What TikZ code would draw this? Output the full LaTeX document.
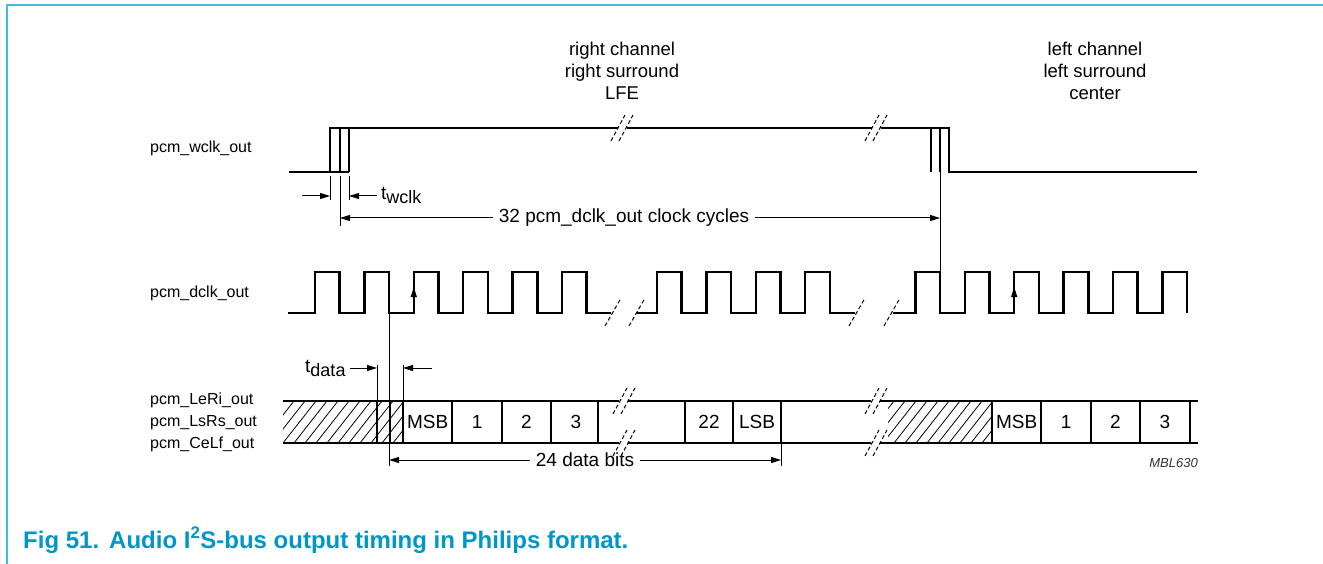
\documentclass[tikz,border=0pt]{standalone}
\usepackage{fontspec}
\setmainfont{Liberation Sans}
\usetikzlibrary{arrows.meta}
\definecolor{framec}{RGB}{64,190,222}
\definecolor{capc}{RGB}{0,150,200}
\tikzset{
  wave/.style={line width=2.5pt, line join=miter, line cap=butt},
  annot/.style={line width=1pt},
  divider/.style={line width=2pt},
  tipend/.style={-{Triangle[length=10pt,width=6pt]}},
  brkline/.style={line width=1pt, dash pattern=on 4pt off 2.5pt},
  lbl/.style={font=\fontsize{16}{19}\selectfont, inner sep=0pt},
  toplbl/.style={font=\fontsize{18.5}{22}\selectfont, inner sep=0pt},
  note/.style={font=\fontsize{19}{22}\selectfont, inner sep=0pt},
  cell/.style={font=\fontsize{19}{22}\selectfont, inner sep=0pt},
}
\newcommand{\dslash}[2]{%
  \draw[brkline] ({#1-11},{#2+13}) -- ({#1+3},{#2-13});
  \draw[brkline] ({#1-3},{#2+13}) -- ({#1+11},{#2-13});
}
\newcommand{\sslash}[2]{%
  \draw[brkline] ({#1-8},{#2+14}) -- ({#1+8},{#2-14});
}
\begin{document}
\begin{tikzpicture}[x=1pt,y=-1pt]
\useasboundingbox (0,0) rectangle (1323,564);
% frame
\draw[framec, line width=2pt] (6.5,564) -- (6.5,5) -- (1323,5);
% caption
\node[anchor=base west, inner sep=0pt, text=capc, font=\fontsize{24}{28}\selectfont\bfseries] (cap) at (23,548)
  {Fig 51.\hspace{10pt}Audio I\textsuperscript{2}S-bus output timing in Philips format.};

% top labels
\node[toplbl, anchor=base] (rc) at (622,56) {right channel};
\node[toplbl, anchor=base] (rs) at (622,78) {right surround};
\node[toplbl, anchor=base] (lfe) at (622,100) {LFE};
\node[toplbl, anchor=base] (lc) at (1095,56) {left channel};
\node[toplbl, anchor=base] (ls) at (1095,78) {left surround};
\node[toplbl, anchor=base] (cn) at (1095,100) {center};

% signal names
\node[lbl, anchor=base west] (nw) at (150,152.5) {pcm\_wclk\_out};
\node[lbl, anchor=base west] (nd) at (150,297.5) {pcm\_dclk\_out};
\node[lbl, anchor=base west] (n1) at (150,404.5) {pcm\_LeRi\_out};
\node[lbl, anchor=base west] (n2) at (150,426.5) {pcm\_LsRs\_out};
\node[lbl, anchor=base west] (n3) at (150,448.5) {pcm\_CeLf\_out};

% ---------------- wclk ----------------
\draw[wave] (289,172) -- (349,172);
\draw[wave] (330,172) -- (330,128) -- (618,128) (627,128) -- (872,128) (881,128) -- (949,128) -- (949,172) -- (1197,172);
\draw[divider] (340,128) -- (340,172);
\draw[divider] (349,128) -- (349,172);
\draw[divider] (931,128) -- (931,172);
\draw[divider] (940,128) -- (940,172);
\dslash{622}{128}
\dslash{876}{128}

% ---------------- dclk ----------------
\draw[wave] (288,313) foreach \i in {0,...,5} {
  -- ({315+49.4*\i},313) -- ({315+49.4*\i},272) -- ({339.7+49.4*\i},272) -- ({339.7+49.4*\i},313)
} -- (611,313);
\draw[wave] (636,313) foreach \i in {0,...,3} {
  -- ({657+49.4*\i},313) -- ({657+49.4*\i},272) -- ({681.7+49.4*\i},272) -- ({681.7+49.4*\i},313)
} -- (855,313);
\draw[wave] (893,313) foreach \i in {0,...,5} {
  -- ({915.4+49.4*\i},313) -- ({915.4+49.4*\i},272) -- ({940.1+49.4*\i},272) -- ({940.1+49.4*\i},313)
};
\sslash{613}{312}
\sslash{637}{312}
\sslash{857}{312}
\sslash{892}{312}
\draw[annot, -{Triangle[length=10pt,width=6pt]}] (413.8,305) -- (413.8,287);
\draw[annot, -{Triangle[length=10pt,width=6pt]}] (1014.2,305) -- (1014.2,287);

% ---------------- data bus ----------------
\begin{scope}
  \clip (283,401) rectangle (403,443);
  \foreach \k in {0,...,14} { \draw[annot, line width=0.8pt] ({250+11*\k},443) -- ++(33,-42); }
\end{scope}
\begin{scope}
  \clip (888,401) rectangle (992,443);
  \foreach \k in {0,...,13} { \draw[annot, line width=0.8pt] ({850+11*\k},443) -- ++(33,-42); }
\end{scope}
\foreach \yy in {401,443} {
  \draw[wave] (283,\yy) -- (619,\yy) (628,\yy) -- (871,\yy) (880,\yy) -- (1198,\yy);
  \dslash{624}{\yy}
  \dslash{876}{\yy}
}
\foreach \xx in {377,390,403,452.4,501.8,551.2,598,685,733,781,992,1041.4,1090.8,1140.2,1189.6} {
  \draw[divider] (\xx,401) -- (\xx,443);
}
\node[cell] (c1) at (427.7,422) {MSB};
\node[cell] (c2) at (477.1,422) {1};
\node[cell] (c3) at (526.5,422) {2};
\node[cell] (c4) at (575.9,422) {3};
\node[cell] (c5) at (709,422) {22};
\node[cell] (c6) at (757,422) {LSB};
\node[cell] (c7) at (1016.7,422) {MSB};
\node[cell] (c8) at (1066.1,422) {1};
\node[cell] (c9) at (1115.5,422) {2};
\node[cell] (c10) at (1164.9,422) {3};
\node[anchor=base east, inner sep=0pt, font=\fontsize{13}{15}\selectfont\itshape, text=black!80] (mbl) at (1198,467) {MBL630};

% ---------------- annotations ----------------
% t_wclk
\coordinate (wa) at (330,176);
\coordinate (wb) at (340,176);
\coordinate (wc) at (349,176);
\draw[annot] (wa) -- (330,200);
\draw[annot] (wb) -- (340,226);
\draw[annot] (wc) -- (349,200);
\coordinate (wl) at (302,196);
\coordinate (wr) at (377,196);
\draw[annot, tipend] (wl) -- (330,196);
\draw[annot, tipend] (wr) -- (349,196);
\node[note, anchor=base west] (tw) at (381,200) {t\raisebox{-4pt}{\fontsize{18}{20}\selectfont wclk}};

% 32 cycles
\draw[annot] (940,172) -- (940,272);
\node[note, inner sep=6pt] (cyc) at (624,218) {32 pcm\_dclk\_out clock cycles};
\draw[annot, tipend] (cyc.west) -- (340,218);
\draw[annot, tipend] (cyc.east) -- (940,218);

% t_data
\draw[annot] (377,365) -- (377,401);
\draw[annot] (403,365) -- (403,401);
\draw[annot] (389.1,313) -- (389.1,466);
\node[note, anchor=base west] (td) at (305,372) {t\raisebox{-4pt}{\fontsize{18}{20}\selectfont data}};
\draw[annot, tipend] (td.east |- 0,368) ++(4,0) -- (377,368);
\coordinate (tdr) at (432,368);
\draw[annot, tipend] (tdr) -- (403,368);

% 24 data bits
\draw[annot] (781,443) -- (781,466);
\node[note, inner sep=6pt] (bits) at (585,460) {24 data bits};
\draw[annot, tipend] (bits.west) -- (389.1,460);
\draw[annot, tipend] (bits.east) -- (781,460);
\end{tikzpicture}
\end{document}
